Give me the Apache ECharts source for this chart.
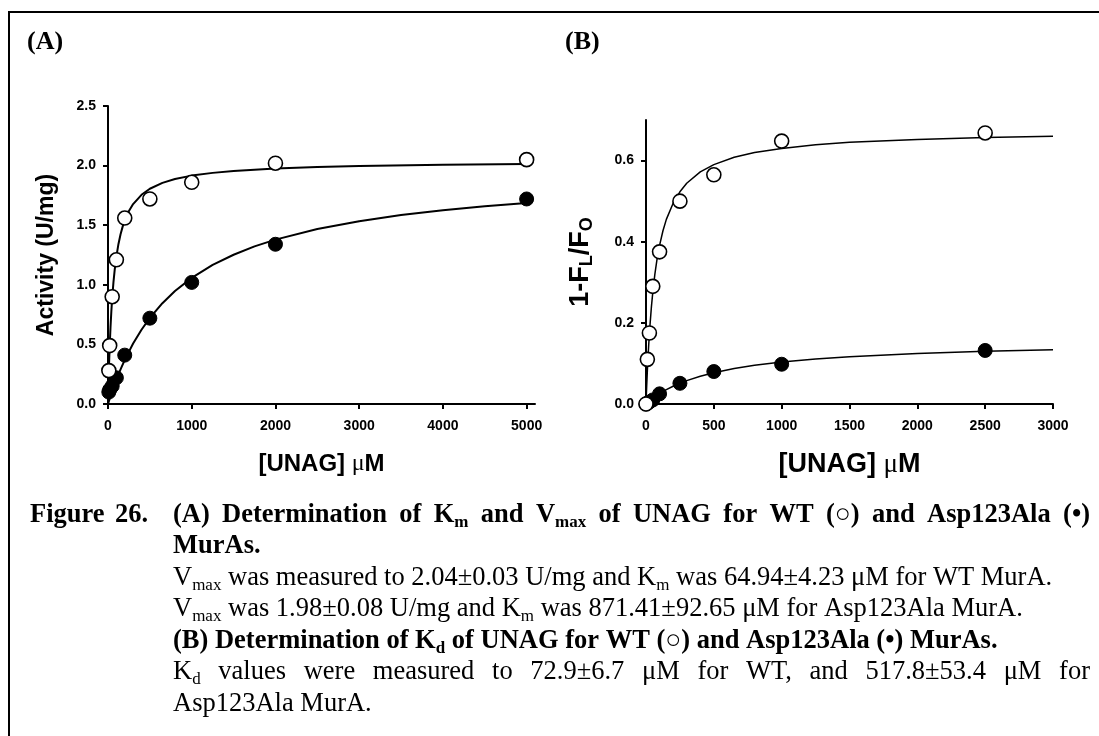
<!DOCTYPE html>
<html><head><meta charset="utf-8">
<script src="https://cdn.jsdelivr.net/npm/echarts@6/dist/echarts.min.js"></script>
<style>html,body{margin:0;padding:0;background:#fff;}#c{width:1099px;height:736px;}</style>
</head><body><div id="c"></div>
<script>
// ---------- Panel A : activity vs [UNAG] ----------
const A_X = [10, 20, 50, 100, 200, 500, 1000, 2000, 5000];
const A_Y_WT = [0.28, 0.49, 0.90, 1.21, 1.56, 1.72, 1.86, 2.02, 2.05];
const A_Y_MUT = [0.10, 0.12, 0.15, 0.22, 0.41, 0.72, 1.02, 1.34, 1.72];
// fitted curves
const A_FIT_WT_X = [0, 2, 5, 10, 15, 20, 30, 40, 50, 65, 80, 100, 125, 150, 175, 200, 250, 300, 400, 500, 650, 800, 1000, 1250, 1500, 2000, 2500, 3000, 4000, 5000];
const A_FIT_WT = [0, 0.061, 0.146, 0.272, 0.383, 0.480, 0.645, 0.778, 0.887, 1.020, 1.126, 1.237, 1.343, 1.424, 1.488, 1.540, 1.619, 1.677, 1.755, 1.806, 1.855, 1.887, 1.916, 1.939, 1.955, 1.976, 1.988, 1.997, 2.007, 2.014];
const A_FIT_MUT_X = [0, 25, 50, 100, 150, 200, 300, 400, 500, 650, 800, 1000, 1250, 1500, 1750, 2000, 2500, 3000, 3500, 4000, 4500, 5000];
const A_FIT_MUT = [0, 0.055, 0.107, 0.204, 0.291, 0.370, 0.507, 0.623, 0.722, 0.846, 0.948, 1.058, 1.167, 1.252, 1.322, 1.379, 1.468, 1.534, 1.585, 1.626, 1.659, 1.686];
const A_X_TICKS = [0, 1000, 2000, 3000, 4000, 5000];
const A_Y_TICKS = [0, 0.5, 1.0, 1.5, 2.0, 2.5];

// ---------- Panel B : 1-FL/FO vs [UNAG] ----------
const B_X = [0, 10, 25, 50, 100, 250, 500, 1000, 2500];
const B_Y_WT = [0.0, 0.11, 0.175, 0.29, 0.375, 0.50, 0.565, 0.648, 0.668];
const B_Y_MUT = [0.0, 0.002, 0.005, 0.010, 0.025, 0.051, 0.080, 0.098, 0.132];
const B_FIT_WT_X = [0, 2, 5, 10, 15, 20, 30, 40, 50, 65, 80, 100, 125, 150, 200, 250, 300, 400, 500, 650, 800, 1000, 1250, 1500, 2000, 2500, 3000];
const B_FIT_WT = [0, 0.018, 0.043, 0.082, 0.115, 0.146, 0.197, 0.240, 0.275, 0.319, 0.354, 0.391, 0.427, 0.455, 0.495, 0.523, 0.544, 0.572, 0.590, 0.608, 0.620, 0.630, 0.639, 0.645, 0.652, 0.657, 0.660];
const B_FIT_MUT_X = [0, 25, 50, 100, 150, 200, 300, 400, 500, 650, 800, 1000, 1250, 1500, 2000, 2500, 3000];
const B_FIT_MUT = [0, 0.0072, 0.0138, 0.0254, 0.0353, 0.0437, 0.0576, 0.0684, 0.0771, 0.0874, 0.0953, 0.1034, 0.1110, 0.1167, 0.1247, 0.1301, 0.1339];
const B_X_TICKS = [0, 500, 1000, 1500, 2000, 2500, 3000];
const B_Y_TICKS = [0, 0.2, 0.4, 0.6];

const zip = (xs, ys) => xs.map((x, i) => [x, ys[i]]);

const TICK_FONT = {color:'#000', fontFamily:'Liberation Sans', fontWeight:'bold', fontSize:14};

function axis(gi, min, max, ticks, margin, fmt, extra) {
  return Object.assign({
    type:'value', gridIndex:gi, min:min, max:max,
    axisLine:{show:true, onZero:false, lineStyle:{color:'#000', width:2}},
    axisTick:{show:true, inside:false, length:5, customValues:ticks, lineStyle:{color:'#000', width:2}},
    axisLabel:Object.assign({customValues:ticks, margin:margin, formatter:fmt}, TICK_FONT),
    splitLine:{show:false}
  }, extra);
}

const nameRich = (size) => ({
  a:{fontFamily:'Liberation Sans', fontWeight:'bold', fontSize:size, color:'#000'},
  m:{fontFamily:'Liberation Serif', fontWeight:'normal', fontSize:size, color:'#000'}
});

const open = {color:'#fff', borderColor:'#000', borderWidth:1.6, opacity:1};
const filled = {color:'#000', borderColor:'#000', borderWidth:1, opacity:1};

function fit(xi, yi, data, w) {
  return {type:'line', xAxisIndex:xi, yAxisIndex:yi, data:data, showSymbol:false, smooth:false,
    lineStyle:{color:'#000', width:w}, z:2, silent:true};
}
function pts(xi, yi, data, style) {
  return {type:'scatter', xAxisIndex:xi, yAxisIndex:yi, data:data, symbol:'circle', symbolSize:14,
    itemStyle:style, z:3, silent:true};
}

// ---------- caption ----------
const SERIF = 'Liberation Serif';
const MAIN = 26.5, SUB = 17;
const cv = document.createElement('canvas').getContext('2d');
function mw(t, bold, sub) { cv.font = (bold ? 'bold ' : '') + (sub ? SUB : MAIN) + 'px "' + SERIF + '"'; return cv.measureText(t).width; }
const capRich = {
  n:{fontFamily:SERIF, fontSize:MAIN, fontWeight:'normal', lineHeight:32, color:'#000'},
  b:{fontFamily:SERIF, fontSize:MAIN, fontWeight:'bold', lineHeight:32, color:'#000'},
  ns:{fontFamily:SERIF, fontSize:SUB, fontWeight:'normal', lineHeight:SUB, verticalAlign:'bottom', color:'#000'},
  bs:{fontFamily:SERIF, fontSize:SUB, fontWeight:'bold', lineHeight:SUB, verticalAlign:'bottom', color:'#000'}
};
function segs(w) {
  const out = []; const re = /_\{([^}]*)\}/g; let last = 0, m;
  while ((m = re.exec(w))) { if (m.index > last) out.push({t:w.slice(last, m.index), s:false}); out.push({t:m[1], s:true}); last = re.lastIndex; }
  if (last < w.length) out.push({t:w.slice(last), s:false});
  return out;
}
const CAPTION = [
  {text:'Figure 26.', bold:true, x0:30, x1:148, y:515, justify:true},
  {text:'(A) Determination of K_{m} and V_{max} of UNAG for WT (○) and Asp123Ala (•)', bold:true, x0:173, x1:1090, y:515, justify:true},
  {text:'MurAs.', bold:true, x0:173, y:546.5},
  {text:'V_{max} was measured to 2.04±0.03 U/mg and K_{m} was 64.94±4.23 μM for WT MurA.', bold:false, x0:173, y:578},
  {text:'V_{max} was 1.98±0.08 U/mg and K_{m} was 871.41±92.65 μM for Asp123Ala MurA.', bold:false, x0:173, y:609.5},
  {text:'(B) Determination of K_{d} of UNAG for WT (○) and Asp123Ala (•) MurAs.', bold:true, x0:173, y:641},
  {text:'K_{d} values were measured to 72.9±6.7 μM for WT, and 517.8±53.4 μM for', bold:false, x0:173, x1:1090, y:672.5, justify:true},
  {text:'Asp123Ala MurA.', bold:false, x0:173, y:704}
];
const graphics = [
  {type:'rect', shape:{x:9, y:12, width:1200, height:800}, style:{fill:'none', stroke:'#000', lineWidth:2}, silent:true},
  {type:'text', x:27, y:42, style:{text:'(A)', font:'bold 26px "Liberation Serif"', fill:'#000', verticalAlign:'middle'}, silent:true},
  {type:'text', x:565, y:42, style:{text:'(B)', font:'bold 26px "Liberation Serif"', fill:'#000', verticalAlign:'middle'}, silent:true}
];
CAPTION.forEach(line => {
  const words = line.text.split(' ');
  const info = words.map(w => {
    const sg = segs(w);
    const width = sg.reduce((a, s) => a + mw(s.t, line.bold, s.s), 0);
    const rich = sg.map(s => '{' + (line.bold ? 'b' : 'n') + (s.s ? 's' : '') + '|' + s.t + '}').join('');
    return {width, rich};
  });
  const total = info.reduce((a, i) => a + i.width, 0);
  const gap = line.justify && words.length > 1 ? (line.x1 - line.x0 - total) / (words.length - 1) : mw(' ', line.bold, false);
  let x = line.x0;
  info.forEach(i => {
    graphics.push({type:'text', x:x, y:line.y, silent:true,
      style:{text:i.rich, rich:capRich, align:'left', verticalAlign:'middle'}});
    x += i.width + gap;
  });
});

const option = {
  animation:false,
  backgroundColor:'#fff',
  grid:[
    {left:108, top:106, width:427, height:298, outerBoundsMode:'none'},
    {left:646, top:120, width:407, height:284, outerBoundsMode:'none'}
  ],
  xAxis:[
    axis(0, 0, 5100, A_X_TICKS, 15, v => String(v), {
      name:'{a|[UNAG] }{m|μ}{a|M}', nameLocation:'middle', nameGap:48,
      nameTextStyle:{rich:nameRich(24)}}),
    axis(1, 0, 3000, B_X_TICKS, 15, v => String(v), {
      name:'{a|[UNAG] }{m|μ}{a|M}', nameLocation:'middle', nameGap:47,
      nameTextStyle:{rich:nameRich(27)}})
  ],
  yAxis:[
    axis(0, 0, 2.5, A_Y_TICKS, 12, v => v.toFixed(1), {
      name:'Activity (U/mg)', nameLocation:'middle', nameGap:50,
      nameTextStyle:{fontFamily:'Liberation Sans', fontWeight:'bold', fontSize:23, color:'#000'}}),
    axis(1, 0, 0.7, B_Y_TICKS, 12, v => v.toFixed(1), {
      name:'{t|1-F}{s|L}{t|/F}{s|O}', nameLocation:'middle', nameGap:50,
      nameTextStyle:{rich:{
        t:{fontFamily:'Liberation Sans', fontWeight:'bold', fontSize:27, lineHeight:30, color:'#000'},
        s:{fontFamily:'Liberation Sans', fontWeight:'bold', fontSize:18, lineHeight:18, verticalAlign:'bottom', color:'#000'}}}})
  ],
  series:[
    fit(0, 0, zip(A_FIT_WT_X, A_FIT_WT), 2),
    fit(0, 0, zip(A_FIT_MUT_X, A_FIT_MUT), 2),
    pts(0, 0, zip(A_X, A_Y_MUT), filled),
    pts(0, 0, zip(A_X, A_Y_WT), open),
    fit(1, 1, zip(B_FIT_WT_X, B_FIT_WT), 1.5),
    fit(1, 1, zip(B_FIT_MUT_X, B_FIT_MUT), 1.5),
    pts(1, 1, zip(B_X, B_Y_MUT), filled),
    pts(1, 1, zip(B_X, B_Y_WT), open)
  ],
  graphic:graphics
};
const chart = echarts.init(document.getElementById('c'), null, {renderer:'canvas'});
chart.setOption(option);
</script></body></html>
